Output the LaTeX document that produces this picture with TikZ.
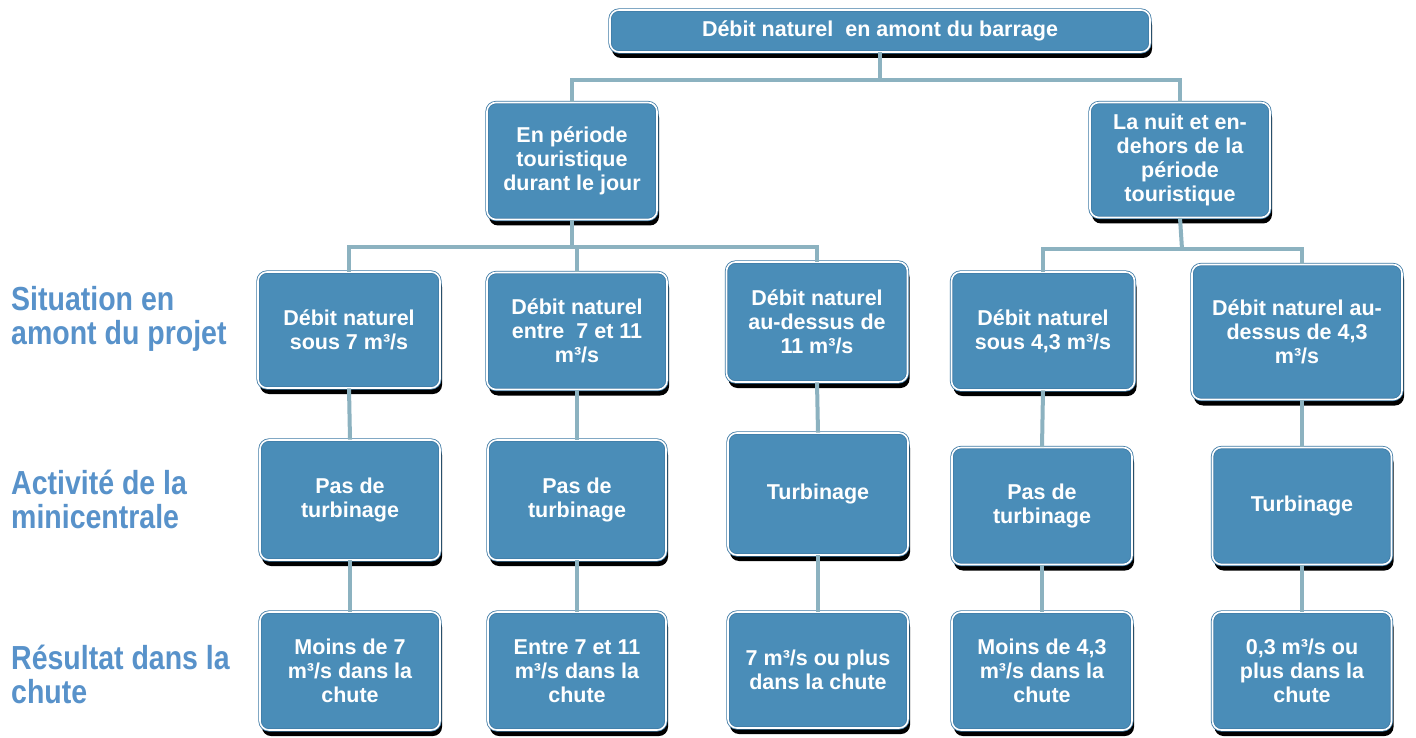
\documentclass[tikz,border=0pt]{standalone}
\usepackage{fontspec}
\setmainfont{Liberation Sans}
\usepackage{graphicx}
\usetikzlibrary{shadows}
\definecolor{boxblue}{RGB}{74,141,184}
\definecolor{boxedge}{RGB}{62,122,165}
\definecolor{linkc}{RGB}{140,178,192}
\definecolor{labelblue}{RGB}{88,146,202}
\begin{document}
\begin{tikzpicture}[x=1pt,y=-1pt,
  box/.style={rectangle, rounded corners=9pt, fill=boxblue, draw=boxedge, double=white,
    double distance=1.6pt, line width=0.8pt, text=white,
    font=\fontsize{21.5}{24}\selectfont\bfseries, align=center, inner sep=0pt,
    minimum width=180pt, minimum height=118pt,
    drop shadow={shadow xshift=2pt, shadow yshift=-6pt, fill=black, opacity=1}},
  link/.style={draw=linkc, line width=4pt},
  lbl/.style={anchor=north west, inner sep=0pt, text=labelblue}]
\fill[white] (0,0) rectangle (1416,738);
\useasboundingbox (0,0) rectangle (1416,738);

% level 1
\node[box, minimum width=540pt, minimum height=42pt] (top) at (880,31) {Débit naturel\ \ en amont du barrage};
% level 2
\node[box, minimum width=170pt, minimum height=117pt] (day) at (572,161) {En période\\touristique\\durant le jour};
\node[box, minimum width=180pt, minimum height=115pt] (night) at (1180,160) {La nuit et en-\\dehors de la\\période\\touristique};
% level 3
\node[box, minimum width=182pt, minimum height=116pt] (b1) at (349,330) {Débit naturel\\sous 7 m³/s};
\node[box, minimum width=180pt, minimum height=117pt] (b2) at (577,331) {Débit naturel\\entre\ \ 7 et 11\\m³/s};
\node[box, minimum width=181pt, minimum height=120pt] (b3) at (817,322) {Débit naturel\\au-dessus de\\11 m³/s};
\node[box, minimum width=183pt, minimum height=118pt] (b4) at (1043,331) {Débit naturel\\sous 4,3 m³/s};
\node[box, minimum width=210pt, minimum height=135pt] (b5) at (1297,332) {Débit naturel au-\\dessus de 4,3\\m³/s};
% level 4
\node[box, minimum height=120pt] (a1) at (350,500) {Pas de\\turbinage};
\node[box, minimum width=178pt, minimum height=120pt] (a2) at (577,500) {Pas de\\turbinage};
\node[box, minimum height=122pt] (a3) at (818,494) {Turbinage};
\node[box, minimum height=117pt] (a4) at (1042,506) {Pas de\\turbinage};
\node[box, minimum width=179pt, minimum height=117pt] (a5) at (1302,506) {Turbinage};
% level 5
\node[box] (r1) at (350,671) {Moins de 7\\m³/s dans la\\chute};
\node[box, minimum width=178pt] (r2) at (577,671) {Entre 7 et 11\\m³/s dans la\\chute};
\node[box, minimum height=116pt] (r3) at (818,670) {7 m³/s ou plus\\dans la chute};
\node[box] (r4) at (1042,671) {Moins de 4,3\\m³/s dans la\\chute};
\node[box, minimum width=179pt] (r5) at (1302,671) {0,3 m³/s ou\\plus dans la\\chute};

% side labels
\node[lbl] (l1) at (11,286) {\scalebox{1}[1.17]{\fontsize{28.5}{28.5}\selectfont\bfseries\begin{tabular}{@{}l@{}}Situation en\\amont du projet\end{tabular}}};
\node[lbl] (l2) at (11,470) {\scalebox{1}[1.17]{\fontsize{28.5}{28.5}\selectfont\bfseries\begin{tabular}{@{}l@{}}Activité de la\\minicentrale\end{tabular}}};
\node[lbl] (l3) at (11,645) {\scalebox{1}[1.17]{\fontsize{28.5}{28.5}\selectfont\bfseries\begin{tabular}{@{}l@{}}Résultat dans la\\chute\end{tabular}}};

% tree connectors
\coordinate (j1) at (880,80);
\coordinate (j2) at (572,247);
\coordinate (j3) at (1182,249);
\draw[link] (top.south) -- (j1);
\draw[link] (j1) -| (day.north);
\draw[link] (j1) -| (night.north);
\draw[link] (day.south) -- (j2);
\draw[link] (j2) -| (b1.north);
\draw[link] (j2) -| (b2.north);
\draw[link] (j2) -| (b3.north);
\draw[link] (night.south) -- (j3);
\draw[link] (j3) -| (b4.north);
\draw[link] (j3) -| ([xshift=5pt]b5.north);
% vertical connectors
\draw[link] (b1.south) -- (a1.north);
\draw[link] (b2.south) -- (a2.north);
\draw[link] (b3.south) -- (a3.north);
\draw[link] (b4.south) -- (a4.north);
\draw[link] (a5.north |- b5.south) -- (a5.north);
\draw[link] (a1.south) -- (r1.north);
\draw[link] (a2.south) -- (r2.north);
\draw[link] (a3.south) -- (r3.north);
\draw[link] (a4.south) -- (r4.north);
\draw[link] (a5.south) -- (r5.north);
\end{tikzpicture}
\end{document}
